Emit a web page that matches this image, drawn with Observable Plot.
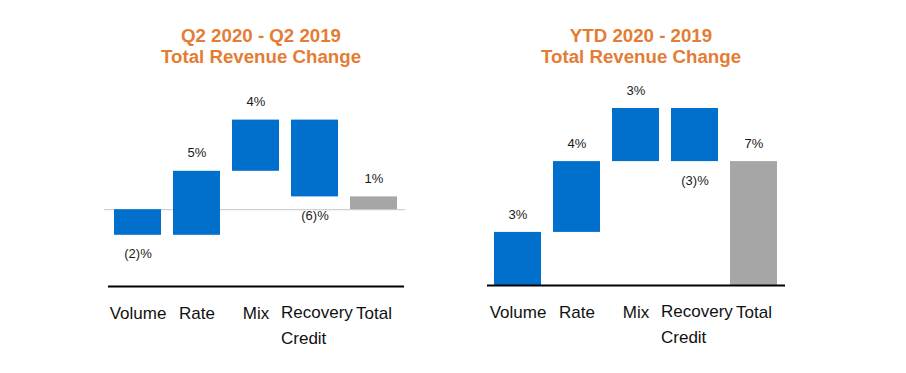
<!DOCTYPE html>
<html><head><meta charset="utf-8">
<script src="https://cdn.jsdelivr.net/npm/d3@7"></script>
<script src="https://cdn.jsdelivr.net/npm/@observablehq/plot@0.6"></script>
<style>
body{margin:0;background:#fff;}
#wrap{position:relative;width:906px;height:373px;overflow:hidden;font-family:"Liberation Sans",Arial,sans-serif;background:#fff;}
.title{position:absolute;z-index:5;top:24.5px;width:320px;text-align:center;color:#E47C34;font-weight:bold;font-size:18.7px;line-height:21.7px;white-space:nowrap;}
.chart{position:absolute;top:0;z-index:1;}
</style></head><body>
<div id="wrap">
  <div class="chart" id="c1" style="left:0"></div>
  <div class="chart" id="c2" style="left:453px"></div>
  <div class="title" style="left:101px">Q2 2020 - Q2 2019<br>Total Revenue Change</div>
  <div class="title" style="left:481px">YTD 2020 - 2019<br>Total Revenue Change</div>
</div>
<script>
const categories = ["Volume", "Rate", "Mix", "Recovery Credit", "Total"];
const q2Values = [-2, 5, 4, -6, 1];   // last value is the total
const ytdValues = [3, 4, 3, -3, 7];   // last value is the total
const q2YDomain = [-6, 7];
const ytdYDomain = [0, 10];

const BLUE = "#0070CC", GRAY = "#A6A6A6";

function waterfall(values) {
  let cum = 0;
  return categories.map((c, i) => {
    const v = values[i];
    if (i === categories.length - 1) return {cat: c, v, start: 0, end: v, total: true};
    const row = {cat: c, v, start: cum, end: cum + v, total: false};
    cum += v;
    return row;
  });
}
const fmt = v => v < 0 ? `(${-v})%` : `${v}%`;

function chart(values, yDomain, opts) {
  const data = waterfall(values);
  const up = data.filter(d => d.v >= 0);
  const down = data.filter(d => d.v < 0);
  const marks = [];
  if (opts.zeroLine) marks.push(Plot.ruleY([0], {stroke: "#c6c6c6", strokeWidth: 1, insetLeft: -4, insetRight: -1}));
  marks.push(
    Plot.barY(data, {x: "cat", y1: "start", y2: "end", fill: d => d.total ? GRAY : BLUE}),
    Plot.ruleY([yDomain[0]], {stroke: "#000", strokeWidth: 2}),
    Plot.text(up, {x: "cat", y: d => Math.max(d.start, d.end), text: d => fmt(d.v), dy: -18, fontSize: 13, fill: "#1a1a1a"}),
    Plot.text(down, {x: "cat", y: d => Math.min(d.start, d.end), text: d => fmt(d.v), dy: 19, fontSize: 13, fill: "#1a1a1a"}),
    Plot.text(categories.filter(c => c !== "Recovery Credit"), {x: d => d, text: d => d, frameAnchor: "bottom", lineAnchor: "top", dy: 20, fontSize: 17, fill: "#111"}),
    Plot.text(["Recovery Credit"], {x: d => d, text: d => d.replace(" ", "\n"), frameAnchor: "bottom", lineAnchor: "top", textAnchor: "start", dx: -34, dy: 13, lineHeight: 1.53, fontSize: 17, fill: "#111"})
  );
  return Plot.plot({
    width: 453,
    height: 373,
    marginLeft: opts.ml,
    marginRight: opts.mr,
    marginTop: opts.mt,
    marginBottom: opts.mb,
    style: {fontFamily: "'Liberation Sans', Arial, sans-serif", background: "transparent", overflow: "visible"},
    x: {type: "band", domain: categories, paddingInner: 0.2, paddingOuter: 0.1, axis: null},
    y: {domain: yDomain, axis: null},
    marks
  });
}

document.getElementById("c1").append(chart(q2Values, q2YDomain, {ml: 108, mr: 49, mt: 119.6, mb: 87, zeroLine: true}));
document.getElementById("c2").append(chart(ytdValues, ytdYDomain, {ml: 34, mr: 121, mt: 108, mb: 88, zeroLine: false}));
</script>
</body></html>
